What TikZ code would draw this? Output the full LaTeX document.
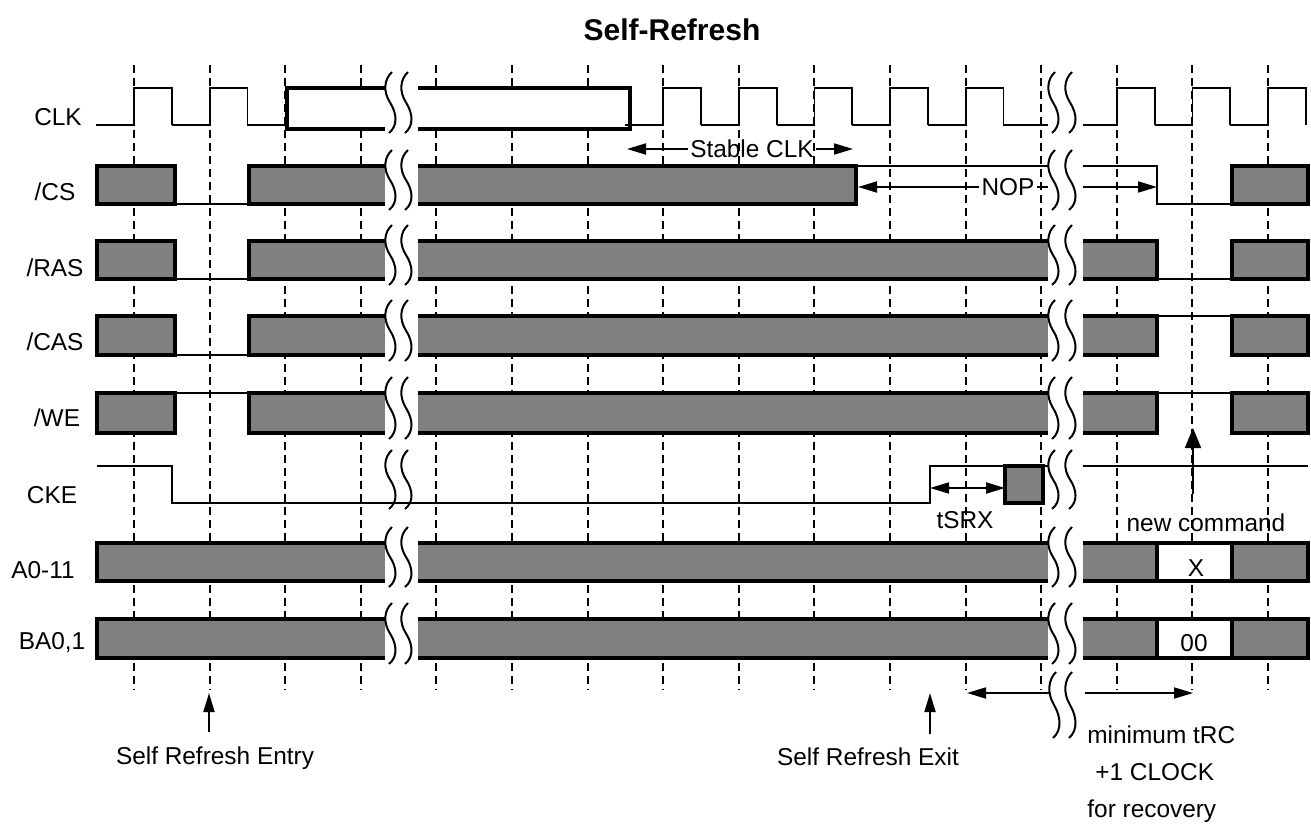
\documentclass[tikz,border=0pt]{standalone}
\usepackage{fontspec}
\setmainfont{Liberation Sans}
\usetikzlibrary{arrows.meta}
\definecolor{busgray}{RGB}{128,128,128}
\tikzset{
sig/.style={line width=0.9pt},
bus/.style={line width=1.8pt, draw=black, fill=busgray},
clkbox/.style={line width=1.6pt},
grid/.style={line width=1pt, dash pattern=on 4pt off 2.5pt},
cut/.style={line width=1pt},
arr/.style={line width=0.9pt},
lbl/.style={font=\fontsize{12.2}{14}\selectfont, inner sep=1pt}
}
\newcommand{\cutmark}[3]{%
  \draw[cut] ({#1+6},{#2}) .. controls ({#1-2},{#2+0.12*(#3-#2)}) and ({#1-3},{#2+0.32*(#3-#2)}) .. ({#1+4},{#2+0.5*(#3-#2)})
    .. controls ({#1+11},{#2+0.68*(#3-#2)}) and ({#1+12},{#2+0.88*(#3-#2)}) .. ({#1+3},{#3});}

\begin{document}
\begin{tikzpicture}[x=0.5pt, y=-0.5pt, >={Triangle[length=9.5pt,width=5.5pt]}]
\useasboundingbox (0,0) rectangle (1311,824);
% clock grid
\foreach \kk in {0,...,15}
  \draw[grid] ({134+75.6*\kk},65) -- ({134+75.6*\kk},690);

\node[font=\fontsize{15}{18}\selectfont\bfseries] (title) at (672,30) {Self-Refresh};

\node[lbl] (lclk) at (58,117) {CLK};
\node[lbl] (lcs) at (55,192) {/CS};
\node[lbl] (lras) at (55,268) {/RAS};
\node[lbl] (lcas) at (55,342) {/CAS};
\node[lbl] (lwe) at (57,418) {/WE};
\node[lbl] (lcke) at (52,495) {CKE};
\node[lbl] (laddr) at (43,570) {A0-11};
\node[lbl] (lba) at (52,643) {BA0,1};

% CLK
\draw[clkbox,fill=white] (385,88) -| (287,129) -- (385,129);
\draw[clkbox,fill=white] (418,88) -| (630,129) -- (418,129);
\foreach \kk in {0,1,7,8,9,10,11,14,15}
  \draw[sig] ({134+75.6*\kk-37.8},125) -| ({134+75.6*\kk},88) -| ({134+75.6*\kk+37.8},125);
\draw[sig] (247.4,125) -- (287,125) (1003.4,125) -- (1048,125);
\draw[sig] (1083,125) -| (1116.8,88) -| (1154.6,125);

% /CS
\draw[bus] (97,166) rectangle (175,204);
\draw[sig] (175,204) -- (249,204);
\draw[bus] (385,166) -| (249,204) -- (385,204);
\draw[bus] (418,166) -| (856,204) -- (418,204);
\draw[sig] (856,166) -- (1048,166) (1083,166) -| (1157,204) -- (1232,204);
\draw[bus] (1232,166) rectangle (1308,204);

% /RAS
\draw[bus] (97,241) rectangle (175,279);
\draw[sig] (175,279) -- (249,279);
\draw[bus] (385,241) -| (249,279) -- (385,279);
\fill[busgray] (418,241) rectangle (1048,279);
\draw[bus] (418,241) -- (1048,241) (418,279) -- (1048,279);
\draw[bus] (1083,241) -| (1157,279) -- (1083,279);
\draw[sig] (1157,279) -- (1232,279);
\draw[bus] (1232,241) rectangle (1308,279);

% /CAS
\draw[bus] (97,316) rectangle (175,355);
\draw[sig] (175,355) -- (249,355);
\draw[bus] (385,316) -| (249,355) -- (385,355);
\fill[busgray] (418,316) rectangle (1048,355);
\draw[bus] (418,316) -- (1048,316) (418,355) -- (1048,355);
\draw[bus] (1083,316) -| (1157,355) -- (1083,355);
\draw[sig] (1157,316) -- (1232,316);
\draw[bus] (1232,316) rectangle (1308,355);

% /WE
\draw[bus] (97,393) rectangle (175,433);
\draw[sig] (175,393) -- (249,393);
\draw[bus] (385,393) -| (249,433) -- (385,433);
\fill[busgray] (418,393) rectangle (1048,433);
\draw[bus] (418,393) -- (1048,393) (418,433) -- (1048,433);
\draw[bus] (1083,393) -| (1157,433) -- (1083,433);
\draw[sig] (1157,393) -- (1232,393);
\draw[bus] (1232,393) rectangle (1308,433);

% CKE
\draw[sig] (97,466) -| (172,503) -- (930,503) -- (930,466) -- (1005,466);
\draw[bus] (1005,466) rectangle (1043,503);
\draw[sig] (1043,466) -- (1048,466) (1083,466) -- (1308,466);

% A0-11
\draw[bus] (385,543) -| (97,581) -- (385,581);
\fill[busgray] (418,543) rectangle (1048,581);
\draw[bus] (418,543) -- (1048,543) (418,581) -- (1048,581);
\draw[bus] (1083,543) -| (1157,581) -- (1083,581);
\draw[bus,fill=white] (1157,543) rectangle (1232,581);
\draw[bus] (1232,543) rectangle (1308,581);
\node[lbl] (xa) at (1196,568) {X};

% BA0,1
\draw[bus] (385,619) -| (97,658) -- (385,658);
\fill[busgray] (418,619) rectangle (1048,658);
\draw[bus] (418,619) -- (1048,619) (418,658) -- (1048,658);
\draw[bus] (1083,619) -| (1157,658) -- (1083,658);
\draw[bus,fill=white] (1157,619) rectangle (1232,658);
\draw[bus] (1232,619) rectangle (1308,658);
\node[lbl] (xb) at (1194,643) {00};

% breaks
\foreach \yt/\yb in {72/133, 150/210, 225/285, 300/361, 377/439, 450/509, 527/587, 603/664}{
  \cutmark{386}{\yt}{\yb} \cutmark{402}{\yt}{\yb}
  \cutmark{1049}{\yt}{\yb} \cutmark{1066}{\yt}{\yb}
}
\cutmark{1050}{672}{738} \cutmark{1066}{672}{738}

% timing arrows
\coordinate (sclkL) at (627,149);
\coordinate (sclkR) at (853,149);
\node[lbl] (stable) at (752,149) {Stable CLK};
\draw[arr,->] (stable) -- (sclkL);
\draw[arr,->] (stable) -- (sclkR);

\coordinate (nopL) at (858,187);
\coordinate (nopE) at (1048,187);
\coordinate (nopS) at (1083,187);
\coordinate (nopR) at (1157,187);
\node[lbl] (nop) at (1008,187) {NOP};
\draw[arr,->] (nop) -- (nopL);
\draw[arr] (nop) -- (nopE);
\draw[arr,->] (nopS) -- (nopR);

\coordinate (srxL) at (930,488);
\coordinate (srxR) at (1005,488);
\draw[arr,<->] (srxL) -- (srxR);
\node[lbl] (tsrx) at (965,520) {tSRX};

\node[lbl] (newcmd) at (1206,523) {new command};
\coordinate (cmdT) at (1193,428);
\draw[arr,-{Triangle[length=10pt,width=8pt]}] (newcmd.north -| cmdT) ++(0,-18) -- (cmdT);

\coordinate (rcL) at (967,693);
\coordinate (rcA) at (1050,693);
\coordinate (rcB) at (1085,693);
\coordinate (rcR) at (1193,693);
\draw[arr,->] (rcA) -- (rcL);
\draw[arr,->] (rcB) -- (rcR);
\node[lbl, align=left, anchor=north west, font=\fontsize{12.2}{18.5}\selectfont] (trc) at (1085,723)
  {minimum tRC\\\hspace{4pt}+1 CLOCK\\for recovery};

\node[lbl] (entry) at (215,758) {Self Refresh Entry};
\coordinate (entryT) at (209,693);
\draw[arr,->] (entry.north -| entryT) ++(0,-12) -- (entryT);

\node[lbl] (exit) at (868,757) {Self Refresh Exit};
\coordinate (exitT) at (930,693);
\draw[arr,->] (exit.north -| exitT) ++(0,-12) -- (exitT);
\end{tikzpicture}
\end{document}
